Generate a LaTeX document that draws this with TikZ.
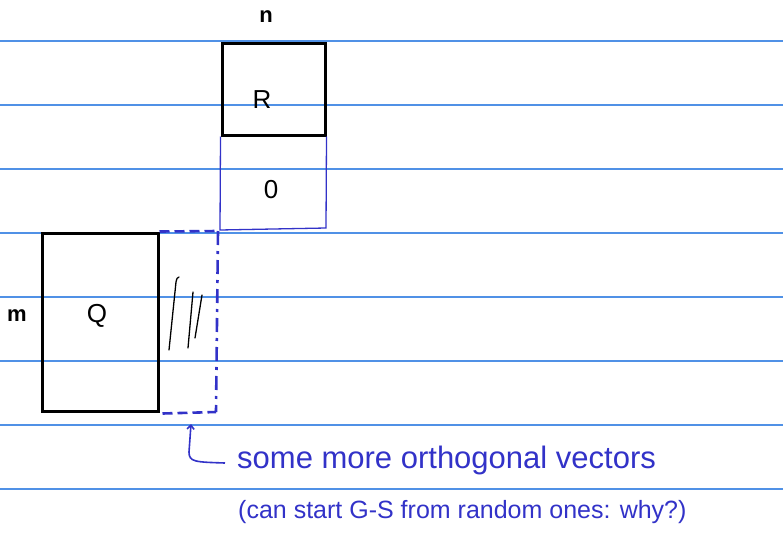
\documentclass[tikz,border=0pt]{standalone}
\usepackage{fontspec}
\setmainfont{Liberation Sans}
\usetikzlibrary{arrows.meta}
\definecolor{rulecol}{RGB}{80,145,230}
\definecolor{ink}{RGB}{50,50,200}
\tikzset{
  ruleline/.style={draw=rulecol, line width=1.2pt},
  blackbox/.style={draw=black, line width=3pt, inner sep=0pt},
  inkthin/.style={draw=ink, line width=1.3pt},
  inkdash/.style={draw=ink, line width=2.6pt, dash pattern=on 10pt off 5pt},
  inkdashdot/.style={draw=ink, line width=2.6pt, dash pattern=on 14pt off 6pt on 3pt off 6pt},
  hand/.style={draw=black, line width=1.3pt, line cap=round},
  lbl/.style={font=\fontsize{26}{26}\selectfont, text=black},
  note/.style={text=ink, anchor=west, inner sep=0pt},
}
\begin{document}
\begin{tikzpicture}[x=1pt,y=-1pt]
\useasboundingbox (0,0) rectangle (783,538);
\foreach \yy in {41,105,169,233,297,361,425,489}{
  \coordinate (L\yy) at (0,\yy);
  \coordinate (E\yy) at (783,\yy);
  \path[ruleline] (L\yy) -- (E\yy);
}
% R box
\node[blackbox, minimum width=103pt, minimum height=92pt] (R) at (273.5,89) {};
\node[lbl] (Rl) at (262,100) {R};
\node[lbl, font=\fontsize{22}{22}\selectfont\bfseries] (n) at (266,17) {n};
% O region
\coordinate (Obl) at (220,230);
\coordinate (Obr) at (326,228);
\draw[inkthin] (R.south west) -- (Obl) -- (Obr) -- (R.south east);
\node[lbl] (O) at (271,190) {0};
% Q box
\node[blackbox, minimum width=116pt, minimum height=178pt] (Q) at (100,322) {};
\node[lbl] (Ql) at (97,316) {Q};
\node[lbl, font=\fontsize{22}{22}\selectfont\bfseries] (m) at (17,316) {m};
% dashed extension
\coordinate (Dtr) at (218,231);
\coordinate (Dbr) at (216,412);
\draw[inkdash] (Q.north east) -- (Dtr);
\draw[inkdash] (Q.south east) ++(3,1) -- (Dbr);
\draw[inkdashdot] (Dtr) -- (Dbr);
% hatch strokes
\draw[hand] (169,350) -- (176,282) .. controls (177,278) .. (179,277);
\draw[hand] (188,348) -- (193,292);
\draw[hand] (195,338) -- (202,295);
% arrow
\coordinate (Atip) at (191,424);
\coordinate (Aend) at (225,463);
\draw[inkthin, line width=1.6pt, {Straight Barb[length=4pt,width=7pt]}-] (Atip) -- (189,452) .. controls (189,462) and (195,462) .. (Aend);
% notes
\node[note, font=\fontsize{31}{31}\selectfont] (t1) at (237,460) {some more orthogonal vectors};
\node[note, font=\fontsize{25}{25}\selectfont] (t2) at (238,512) {(can start G-S from random ones: why?)};
\end{tikzpicture}
\end{document}
